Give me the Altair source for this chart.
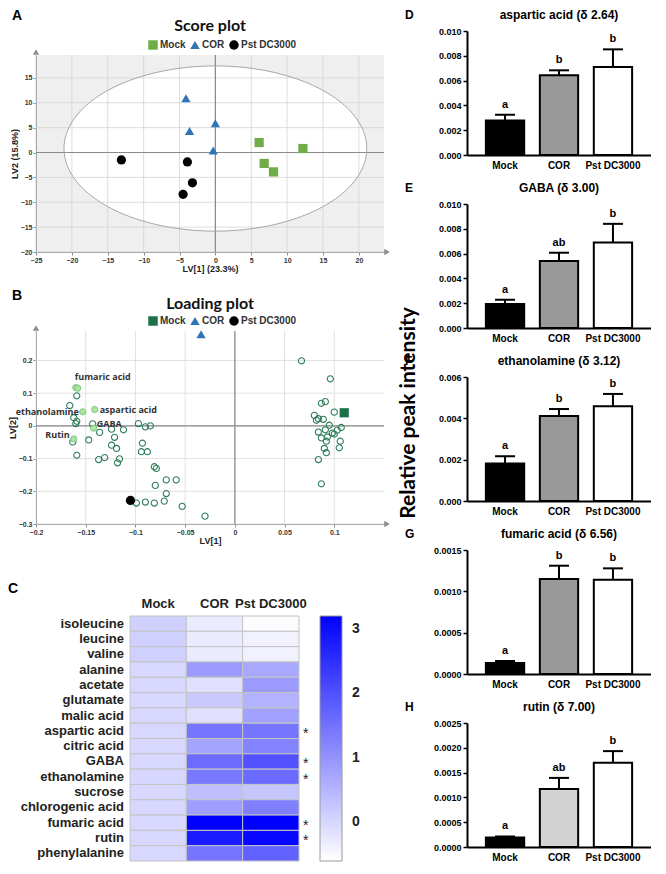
import altair as alt
import numpy as np
import pandas as pd

SANS = "Liberation Sans"
ROUND = "Lato"
GROUPS = ["Mock", "COR", "Pst DC3000"]

# ---------------- A: score plot ----------------
score_group = ["Mock"] * 4 + ["COR"] * 4 + ["Pst DC3000"] * 4
score_lv1 = [6.1, 6.8, 8.1, 12.2, -4.1, -3.6, 0.0, -0.3, -13.1, -3.9, -3.2, -4.5]
score_lv2 = [2.0, -2.2, -3.9, 0.8, 10.9, 4.3, 5.9, 0.4, -1.5, -1.9, -6.1, -8.4]
score_xticks = [-25, -20, -15, -10, -5, 0, 5, 10, 15, 20]
score_yticks = [-20, -15, -10, -5, 0, 5, 10, 15]
ellipse_a = 21.1
ellipse_b = 16.6
ellipse_yc = 0.8
score_colors = ["#70ad47", "#2e75b6", "#000000"]
score_shapes = ["square", "triangle-up", "circle"]

# ---------------- B: loading plot ----------------
load_lv1 = [-0.160, -0.158, -0.159, -0.166, -0.153, -0.141, -0.162, -0.159, -0.160, -0.143,
            -0.142, -0.136, -0.124, -0.112, -0.097, -0.090, -0.085, -0.162, -0.163, -0.159,
            -0.147, -0.137, -0.131, -0.124, -0.121, -0.119, -0.116, -0.118, -0.093, -0.094,
            -0.088, -0.081, -0.079, -0.080, -0.069, -0.059, -0.069, -0.099, -0.090, -0.081,
            -0.071, -0.053, -0.030,
            0.067, 0.096, 0.087, 0.091, 0.100, 0.080, 0.084, 0.089, 0.082, 0.095,
            0.084, 0.091, 0.087, 0.092, 0.093, 0.098, 0.100, 0.106, 0.105, 0.090,
            0.092, 0.084, 0.087, 0.107, 0.103]
load_lv2 = [0.117, 0.115, 0.092, 0.062, 0.043, 0.050, 0.025, 0.014, 0.007, 0.006,
            -0.007, -0.020, -0.010, -0.012, 0.007, -0.003, 0.000, -0.040, -0.049, -0.090,
            -0.043, -0.103, -0.097, -0.059, -0.035, -0.069, -0.101, -0.113, -0.053, -0.079,
            -0.079, -0.125, -0.130, -0.182, -0.165, -0.165, -0.207, -0.236, -0.233, -0.236,
            -0.230, -0.246, -0.276,
            0.199, 0.144, 0.069, 0.074, 0.042, 0.032, 0.022, 0.020, 0.017, 0.002,
            -0.019, -0.012, -0.037, -0.047, -0.034, -0.022, -0.025, -0.047, -0.067, -0.069,
            -0.082, -0.103, -0.177, -0.005, -0.013]
load_kind = (["hi", "hi", "n", "n", "hi", "hi", "n", "n", "n", "n", "hi"] + ["n"] * 6
             + ["hi"] + ["n"] * 25 + ["n"] * 25)
load_group_lv1 = [0.110, -0.034, -0.105]
load_group_lv2 = [0.040, 0.280, -0.228]
load_colors = ["#1e7048", "#2e75b6", "#000000"]
load_xticks = [-0.2, -0.15, -0.1, -0.05, 0, 0.05, 0.1]
load_yticks = [-0.3, -0.2, -0.1, 0, 0.1, 0.2]
lab_names = ["fumaric acid", "ethanolamine", "aspartic acid", "GABA", "Rutin"]
lab_lv1 = [-0.160, -0.153, -0.141, -0.143, -0.162]
lab_lv2 = [0.117, 0.043, 0.050, 0.006, -0.040]

# ---------------- C: heatmap ----------------
metabolites = ["isoleucine", "leucine", "valine", "alanine", "acetate", "glutamate",
               "malic acid", "aspartic acid", "citric acid", "GABA", "ethanolamine",
               "sucrose", "chlorogenic acid", "fumaric acid", "rutin", "phenylalanine"]
hm_mock = [0.1, 0.1, 0.1, 0.0, 0.0, 0.0, 0.0, 0.0, 0.0, 0.0, 0.0, 0.0, 0.0, 0.0, 0.0, 0.0]
hm_cor = [-0.3, -0.3, -0.3, 0.9, -0.15, 0.2, -0.15, 1.45, 0.75, 1.6, 1.4, 0.35, 0.85, 3.2, 2.8, 1.45]
hm_pst = [-0.55, -0.4, -0.4, 0.7, 0.9, 0.55, 0.8, 1.45, 1.25, 2.0, 1.6, 0.25, 1.3, 3.2, 3.1, 1.75]
hm_star = ["", "", "", "", "", "", "", "*", "", "*", "*", "", "", "*", "*", ""]

# ---------------- D-H: bar charts ----------------
asp_mean = [0.00278, 0.00643, 0.00709]
asp_upper = [0.00325, 0.00683, 0.00852]
gaba_mean = [0.00193, 0.00540, 0.00690]
gaba_upper = [0.00227, 0.00607, 0.00840]
eth_mean = [0.00181, 0.00411, 0.00459]
eth_upper = [0.00216, 0.00445, 0.00518]
fum_mean = [0.000133, 0.001149, 0.001141]
fum_upper = [0.000157, 0.001310, 0.001278]
rut_mean = [0.000193, 0.001167, 0.001700]
rut_upper = [0.000213, 0.001393, 0.001933]
letters_D = ["a", "b", "b"]
letters_E = ["a", "ab", "b"]
letters_F = ["a", "b", "b"]
letters_G = ["a", "b", "b"]
letters_H = ["a", "ab", "b"]


def label_text(txt, x, y, font=SANS, size=13, align="left", angle=0, color="black"):
    return alt.Chart(pd.DataFrame({"t": [txt]})).mark_text(
        align=align, baseline="middle", font=font, fontSize=size, fontWeight="bold", color=color,
        angle=angle).encode(text="t:N", x=alt.value(x), y=alt.value(y))


def scatter_axis(title, vals, fmt):
    return alt.Axis(values=vals, format=fmt, grid=False, title=title, domainColor="#8c8c8c",
                    tickColor="#8c8c8c", tickSize=3, labelFont=SANS, labelFontSize=7,
                    labelFontWeight="bold", labelColor="#333333", labelPadding=1, labelOverlap=False,
                    labelSeparation=0, titleFont=SANS, titleFontSize=9, titleFontWeight="bold",
                    titleColor="#222222", titlePadding=1, labelFlush=False)


def arrow(shape, x, y):
    return alt.Chart(pd.DataFrame({"t": [1]})).mark_point(
        shape=shape, filled=True, size=40, color="#8c8c8c", opacity=1).encode(
        x=alt.value(x), y=alt.value(y))


# ---- Panel A ----
A_W, A_H = 348, 197
sxA = alt.Scale(domain=[-25, 23.5], nice=False, zero=False)
syA = alt.Scale(domain=[-20, 19.6], nice=False, zero=False)
axA_x = scatter_axis("LV[1] (23.3%)", score_xticks, "d")
axA_y = scatter_axis("LV2 (15.8%)", score_yticks, "d")

t_half = np.linspace(0, np.pi, 121)
ell_fill = pd.DataFrame({"ex": -ellipse_a * np.cos(t_half),
                         "eu": ellipse_yc + ellipse_b * np.sin(t_half),
                         "el": ellipse_yc - ellipse_b * np.sin(t_half)})
t_full = np.linspace(0, 2 * np.pi, 241)
ell_line = pd.DataFrame({"ex": ellipse_a * np.cos(t_full),
                         "ey": ellipse_yc + ellipse_b * np.sin(t_full),
                         "k": np.arange(241)})
score_df = pd.DataFrame({"group": score_group, "lv1": score_lv1, "lv2": score_lv2})


def XA(f):
    return alt.X(f, type="quantitative", scale=sxA, axis=axA_x)


def YA(f):
    return alt.Y(f, type="quantitative", scale=syA, axis=axA_y)


fillA = alt.Chart(ell_fill).mark_area(color="white", opacity=1).encode(x=XA("ex"), y=YA("eu"), y2="el:Q")
gridAx = alt.Chart(pd.DataFrame({"v": score_xticks})).mark_rule(color="#d4d4d4", strokeWidth=0.8).encode(x=XA("v"))
gridAy = alt.Chart(pd.DataFrame({"v": score_yticks})).mark_rule(color="#d4d4d4", strokeWidth=0.8).encode(y=YA("v"))
zeroAx = alt.Chart(pd.DataFrame({"v": [0]})).mark_rule(color="#8a8a8a", strokeWidth=1.2).encode(x=XA("v"))
zeroAy = alt.Chart(pd.DataFrame({"v": [0]})).mark_rule(color="#8a8a8a", strokeWidth=1.2).encode(y=YA("v"))
lineA = alt.Chart(ell_line).mark_line(color="#a6a6a6", strokeWidth=1).encode(
    x=XA("ex"), y=YA("ey"), order="k:Q")


def group_legend(w):
    return alt.Legend(orient="none", legendX=w / 2 - 62, legendY=-15, direction="horizontal",
                      title=None, labelFont=SANS, labelFontSize=10, labelFontWeight="bold",
                      labelColor="#333333", symbolSize=90, symbolStrokeWidth=0, columnPadding=4,
                      labelOffset=2, padding=0)


ptsA = alt.Chart(score_df).mark_point(filled=True, size=85, opacity=1).encode(
    x=XA("lv1"), y=YA("lv2"),
    color=alt.Color("group:N", scale=alt.Scale(domain=GROUPS, range=score_colors), legend=group_legend(A_W)),
    shape=alt.Shape("group:N", scale=alt.Scale(domain=GROUPS, range=score_shapes), legend=group_legend(A_W)),
)
chartA = alt.layer(fillA, gridAx, gridAy, zeroAx, zeroAy, lineA, ptsA,
                   arrow("triangle-up", 0, -3), arrow("triangle-right", A_W + 3, A_H),
                   label_text("A", -24, -39, size=14),
                   label_text("Score plot", A_W / 2, -29, font=ROUND, size=16, align="center",
                              color="#111111")).properties(
    width=A_W, height=A_H, view=alt.ViewBackground(fill="#efefef", stroke="transparent"))

# ---- Panel B ----
B_W, B_H = 348, 193
sxB = alt.Scale(domain=[-0.2, 0.15], nice=False, zero=False)
syB = alt.Scale(domain=[-0.3, 0.29], nice=False, zero=False)
axB_x = scatter_axis("LV[1]", load_xticks, "~g")
axB_y = scatter_axis("LV[2]", load_yticks, "~g")
load_df = pd.DataFrame({"lv1": load_lv1, "lv2": load_lv2, "kind": load_kind})
grp_df = pd.DataFrame({"group": GROUPS, "lv1": load_group_lv1, "lv2": load_group_lv2})
lab_df = pd.DataFrame({"name": lab_names, "lv1": lab_lv1, "lv2": lab_lv2})


def XB(f):
    return alt.X(f, type="quantitative", scale=sxB, axis=axB_x)


def YB(f):
    return alt.Y(f, type="quantitative", scale=syB, axis=axB_y)


gridBx = alt.Chart(pd.DataFrame({"v": load_xticks})).mark_rule(color="#d9d9d9", strokeWidth=0.8).encode(x=XB("v"))
gridBy = alt.Chart(pd.DataFrame({"v": load_yticks})).mark_rule(color="#d9d9d9", strokeWidth=0.8).encode(y=YB("v"))
zeroBx = alt.Chart(pd.DataFrame({"v": [0]})).mark_rule(color="#8a8a8a", strokeWidth=1.2).encode(x=XB("v"))
zeroBy = alt.Chart(pd.DataFrame({"v": [0]})).mark_rule(color="#8a8a8a", strokeWidth=1.2).encode(y=YB("v"))
ptsB_open = alt.Chart(load_df).transform_filter(alt.datum.kind == "n").mark_point(
    shape="circle", filled=False, size=38, stroke="#2e7d5a", strokeWidth=1.1, opacity=1).encode(
    x=XB("lv1"), y=YB("lv2"))
ptsB_hi = alt.Chart(load_df).transform_filter(alt.datum.kind == "hi").mark_point(
    shape="circle", filled=True, size=38, fill="#aee3a5", stroke="#7cc97a", strokeWidth=1, opacity=1).encode(
    x=XB("lv1"), y=YB("lv2"))
ptsB_grp = alt.Chart(grp_df).mark_point(filled=True, size=85, opacity=1).encode(
    x=XB("lv1"), y=YB("lv2"),
    color=alt.Color("group:N", scale=alt.Scale(domain=GROUPS, range=load_colors), legend=group_legend(B_W)),
    shape=alt.Shape("group:N", scale=alt.Scale(domain=GROUPS, range=score_shapes), legend=group_legend(B_W)),
)


def load_label(name, align, dx, dy):
    return alt.Chart(lab_df).transform_filter(alt.datum.name == name).mark_text(
        align=align, baseline="middle", dx=dx, dy=dy, font="Open Sans", fontSize=9,
        fontWeight="bold", color="#333333").encode(x=XB("lv1"), y=YB("lv2"), text="name:N")


chartB = alt.layer(gridBx, gridBy, zeroBx, zeroBy, ptsB_open, ptsB_hi, ptsB_grp,
                   load_label("fumaric acid", "left", -1, -11),
                   load_label("ethanolamine", "right", -4, 0),
                   load_label("aspartic acid", "left", 5, 0),
                   load_label("GABA", "left", 4, 0),
                   load_label("Rutin", "right", -4, -4),
                   arrow("triangle-up", 0, -3), arrow("triangle-right", B_W + 3, B_H),
                   label_text("B", -24, -35, size=14),
                   label_text("Loading plot", B_W / 2, -27, font=ROUND, size=16, align="center",
                              color="#111111")).properties(
    width=B_W, height=B_H, view=alt.ViewBackground(fill="white", stroke="transparent"))

# ---- Panel C ----
C_X0, C_CW, C_H = 94, 169, 245
rows = []
for i, m in enumerate(metabolites):
    rows.append({"met": m, "group": "Mock", "val": hm_mock[i], "star": ""})
    rows.append({"met": m, "group": "COR", "val": hm_cor[i], "star": ""})
    rows.append({"met": m, "group": "Pst DC3000", "val": hm_pst[i], "star": hm_star[i]})
hm_df = pd.DataFrame(rows)
xC = alt.X("group:N", sort=GROUPS,
           scale=alt.Scale(domain=GROUPS, range=[C_X0, C_X0 + C_CW], paddingInner=0, paddingOuter=0),
           axis=alt.Axis(orient="top", title=None, labelAngle=0, ticks=False, domain=False,
                         labelFont=SANS, labelFontSize=13, labelFontWeight="bold", labelColor="#222222",
                         labelPadding=6))
ysC = alt.Scale(domain=metabolites)
yC = alt.Y("met:N", sort=metabolites, scale=ysC, axis=None)
rectC = alt.Chart(hm_df).mark_rect(stroke="#c4c4c4", strokeWidth=1).encode(
    x=xC, y=yC,
    color=alt.Color("val:Q", scale=alt.Scale(domain=[-0.6, 3.2], range=["#ffffff", "#0000ff"],
                                             interpolate="rgb"),
                    legend=alt.Legend(orient="none", legendX=C_X0 + C_CW + 21, legendY=0,
                                      direction="vertical", gradientLength=C_H, gradientThickness=22,
                                      title=None, values=[0, 1, 2, 3], labelFont=SANS, labelFontSize=14,
                                      labelFontWeight="bold", labelColor="#222222", labelOffset=10,
                                      gradientStrokeColor="#999999", gradientStrokeWidth=1)))
rowlabC = alt.Chart(pd.DataFrame({"met": metabolites})).mark_text(
    align="right", baseline="middle", font=SANS, fontSize=13, fontWeight="bold", color="#222222").encode(
    y=yC, x=alt.value(C_X0 - 6), text="met:N")
starC = alt.Chart(hm_df).transform_filter(alt.datum.star != "").mark_text(
    dx=35, dy=3, font=SANS, fontSize=14, color="#222222").encode(x=xC, y=yC, text="star:N")
chartC = alt.layer(rectC, rowlabC, starC, label_text("C", -28, -27, size=14)).properties(
    width=C_X0 + C_CW, height=C_H)

# ---- Panels D-H ----
BAR_W, BAR_H = 184, 124


def bar_panel(letter, title, means, uppers, sig, ymax, ticks, fmt, cor_fill, extra=None):
    df = pd.DataFrame({"group": GROUPS, "mean": means, "upper": uppers, "sig": sig})
    xs = alt.Scale(domain=GROUPS, paddingInner=0.29, paddingOuter=0.35)
    ys = alt.Scale(domain=[0, ymax], nice=False, zero=True)
    xax = alt.Axis(title=None, labelAngle=0, ticks=False, labelFont=SANS, labelFontSize=10,
                   labelFontWeight="bold", labelColor="black", domainColor="black", domainWidth=2,
                   labelPadding=5)
    yax = alt.Axis(title=None, values=ticks, format=fmt, grid=False, labelFont=SANS, labelFontSize=9,
                   labelFontWeight="bold", labelColor="black", domainColor="black", domainWidth=2,
                   tickColor="black", tickWidth=1.5, tickSize=4, labelPadding=2, labelOverlap=False)
    X = alt.X("group:N", sort=GROUPS, scale=xs, axis=xax)
    Y = lambda f: alt.Y(f, type="quantitative", scale=ys, axis=yax)
    base = alt.Chart(df)
    bars = base.mark_bar(stroke="black", strokeWidth=2).encode(
        x=X, y=Y("mean"),
        fill=alt.Fill("group:N", scale=alt.Scale(domain=GROUPS, range=["#000000", cor_fill, "#ffffff"]),
                      legend=None))
    err = base.mark_rule(color="black", strokeWidth=2).encode(x=X, y=Y("mean"), y2="upper:Q")
    cap = base.mark_tick(color="black", thickness=2, size=20, opacity=1).encode(x=X, y=Y("upper"))
    txt = base.mark_text(dy=-10, font=SANS, fontSize=11, fontWeight="bold", color="black").encode(
        x=X, y=Y("upper"), text="sig:N")
    layers = [bars, err, cap, txt, label_text(letter, -62, -16, size=12),
              label_text(title, BAR_W / 2, -16, size=12, align="center")]
    if extra is not None:
        layers.append(extra)
    return alt.layer(*layers).properties(width=BAR_W, height=BAR_H)


big_label = label_text("Relative peak intensity", -58, 36, font=ROUND, size=21, align="center", angle=270)

chartD = bar_panel("D", "aspartic acid (\u03b4 2.64)", asp_mean, asp_upper, letters_D, 0.010,
                   [0, 0.002, 0.004, 0.006, 0.008, 0.010], ".3f", "#999999")
chartE = bar_panel("E", "GABA (\u03b4 3.00)", gaba_mean, gaba_upper, letters_E, 0.010,
                   [0, 0.002, 0.004, 0.006, 0.008, 0.010], ".3f", "#999999")
chartF = bar_panel("F", "ethanolamine (\u03b4 3.12)", eth_mean, eth_upper, letters_F, 0.006,
                   [0, 0.002, 0.004, 0.006], ".3f", "#999999", extra=big_label)
chartG = bar_panel("G", "fumaric acid (\u03b4 6.56)", fum_mean, fum_upper, letters_G, 0.0015,
                   [0, 0.0005, 0.0010, 0.0015], ".4f", "#999999")
chartH = bar_panel("H", "rutin (\u03b4 7.00)", rut_mean, rut_upper, letters_H, 0.0025,
                   [0, 0.0005, 0.0010, 0.0015, 0.0020, 0.0025], ".4f", "#d3d3d3")

left_top = alt.concat(chartA, chartB, columns=1, align="none", spacing=16).resolve_scale(
    color="independent", shape="independent")
left = alt.concat(left_top, chartC, columns=1, align="none", spacing=37).resolve_scale(
    color="independent", shape="independent")
right = alt.vconcat(chartD, chartE, chartF, chartG, chartH, spacing=49, bounds="flush").resolve_scale(
    fill="independent")


def spacer():
    return alt.Chart(pd.DataFrame({"t": [0]})).mark_rect(opacity=0).encode(
        x=alt.value(0), x2=alt.value(1), y=alt.value(0), y2=alt.value(1)).properties(width=1, height=1)


chart = alt.concat(spacer(), spacer(), left, right, columns=2, align="none",
                   spacing={"row": 0, "column": 8}).resolve_scale(
    color="independent", shape="independent", fill="independent").properties(
    padding={"left": 0, "top": 0, "right": 0, "bottom": 0}).configure_view(strokeWidth=0)

chart.save("out.html", embed_options={"renderer": "svg", "actions": False})
